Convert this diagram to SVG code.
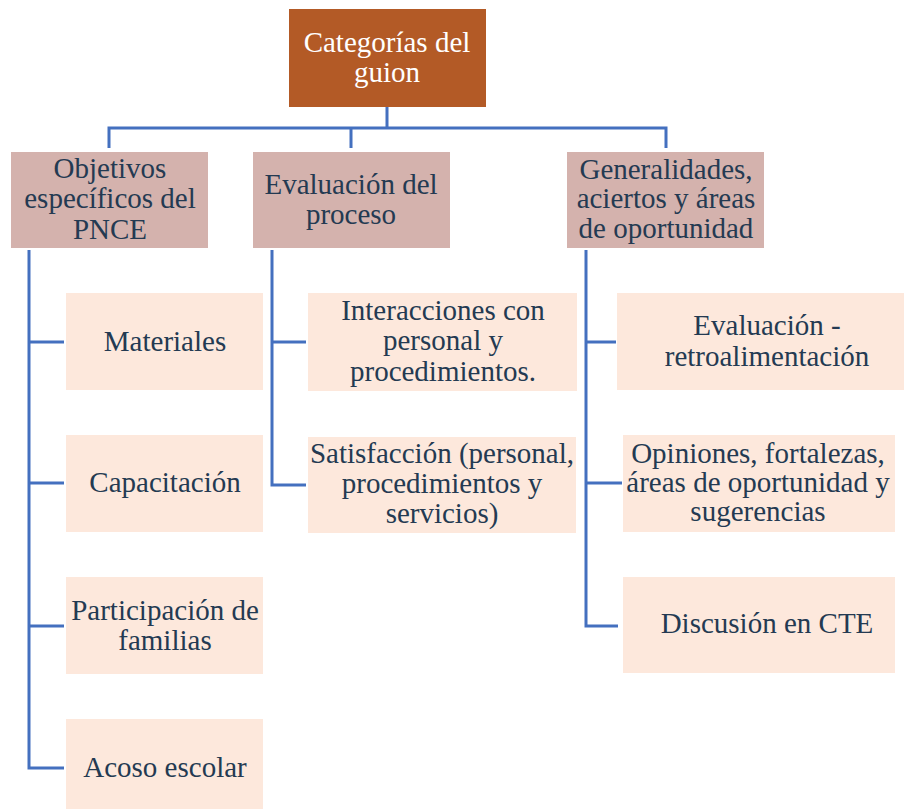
<svg xmlns="http://www.w3.org/2000/svg" width="904" height="809" viewBox="0 0 904 809">
<style>
.l1{fill:#D4B2AD}
.l2{fill:#FDE8DC}
text{font-family:'Liberation Serif','DejaVu Serif',serif;font-size:29px;fill:#243A52;text-anchor:middle}
.w{fill:#FFFFFF}
.c{fill:none;stroke:#4470BF;stroke-width:3}
</style>
<rect width="904" height="809" fill="#FFFFFF"/>
<g id="connectors">
<path class="c" d="M387,107 V128 M109,148 V128 H666 V148 M351,128 V148"/>
<path class="c" d="M29,250 V768 H64 M29,342 H64 M29,483 H64 M29,626 H64"/>
<path class="c" d="M272,250 V485 H306 M272,342 H306"/>
<path class="c" d="M586,250 V626 H618 M586,342 H616 M586,483 H622"/>
</g>
<g font-family="Liberation Serif, serif">
<g id="root">
<rect x="289" y="9" width="197" height="98" fill="#B35A26"/>
<text class="w" x="387" y="52">Categorías del</text>
<text class="w" x="387" y="82">guion</text>
</g>
<g id="objetivos">
<rect class="l1" x="11" y="152" width="197" height="96"/>
<text x="110" y="178">Objetivos</text>
<text x="110" y="208">específicos del</text>
<text x="110" y="239">PNCE</text>
</g>
<g id="evaluacion">
<rect class="l1" x="253" y="152" width="197" height="96"/>
<text x="351" y="194">Evaluación del</text>
<text x="351" y="224">proceso</text>
</g>
<g id="generalidades">
<rect class="l1" x="567" y="152" width="197" height="96"/>
<text x="666" y="179">Generalidades,</text>
<text x="666" y="208">aciertos y áreas</text>
<text x="666" y="238">de oportunidad</text>
</g>
<g id="materiales">
<rect class="l2" x="66" y="293" width="197" height="97"/>
<text x="165" y="351">Materiales</text>
</g>
<g id="capacitacion">
<rect class="l2" x="66" y="435" width="197" height="97"/>
<text x="165" y="492">Capacitación</text>
</g>
<g id="participacion">
<rect class="l2" x="66" y="577" width="197" height="97"/>
<text x="165" y="620">Participación de</text>
<text x="165" y="650">familias</text>
</g>
<g id="acoso">
<rect class="l2" x="66" y="719" width="197" height="97"/>
<text x="165" y="777">Acoso escolar</text>
</g>
<g id="interacciones">
<rect class="l2" x="308" y="293" width="269" height="98"/>
<text x="443" y="320">Interacciones con</text>
<text x="443" y="350">personal y</text>
<text x="443" y="381">procedimientos.</text>
</g>
<g id="satisfaccion">
<rect class="l2" x="308" y="437" width="268" height="96"/>
<text x="442" y="463">Satisfacción (personal,</text>
<text x="442" y="493">procedimientos y</text>
<text x="442" y="523">servicios)</text>
</g>
<g id="retroalimentacion">
<rect class="l2" x="617" y="293" width="287" height="97"/>
<text x="767" y="335">Evaluación -</text>
<text x="767" y="366">retroalimentación</text>
</g>
<g id="opiniones">
<rect class="l2" x="623" y="435" width="272" height="97"/>
<text x="758" y="463">Opiniones, fortalezas,</text>
<text x="758" y="492">áreas de oportunidad y</text>
<text x="758" y="521">sugerencias</text>
</g>
<g id="discusion">
<rect class="l2" x="623" y="577" width="272" height="96"/>
<text x="767" y="633">Discusión en CTE</text>
</g>
</g>
</svg>
